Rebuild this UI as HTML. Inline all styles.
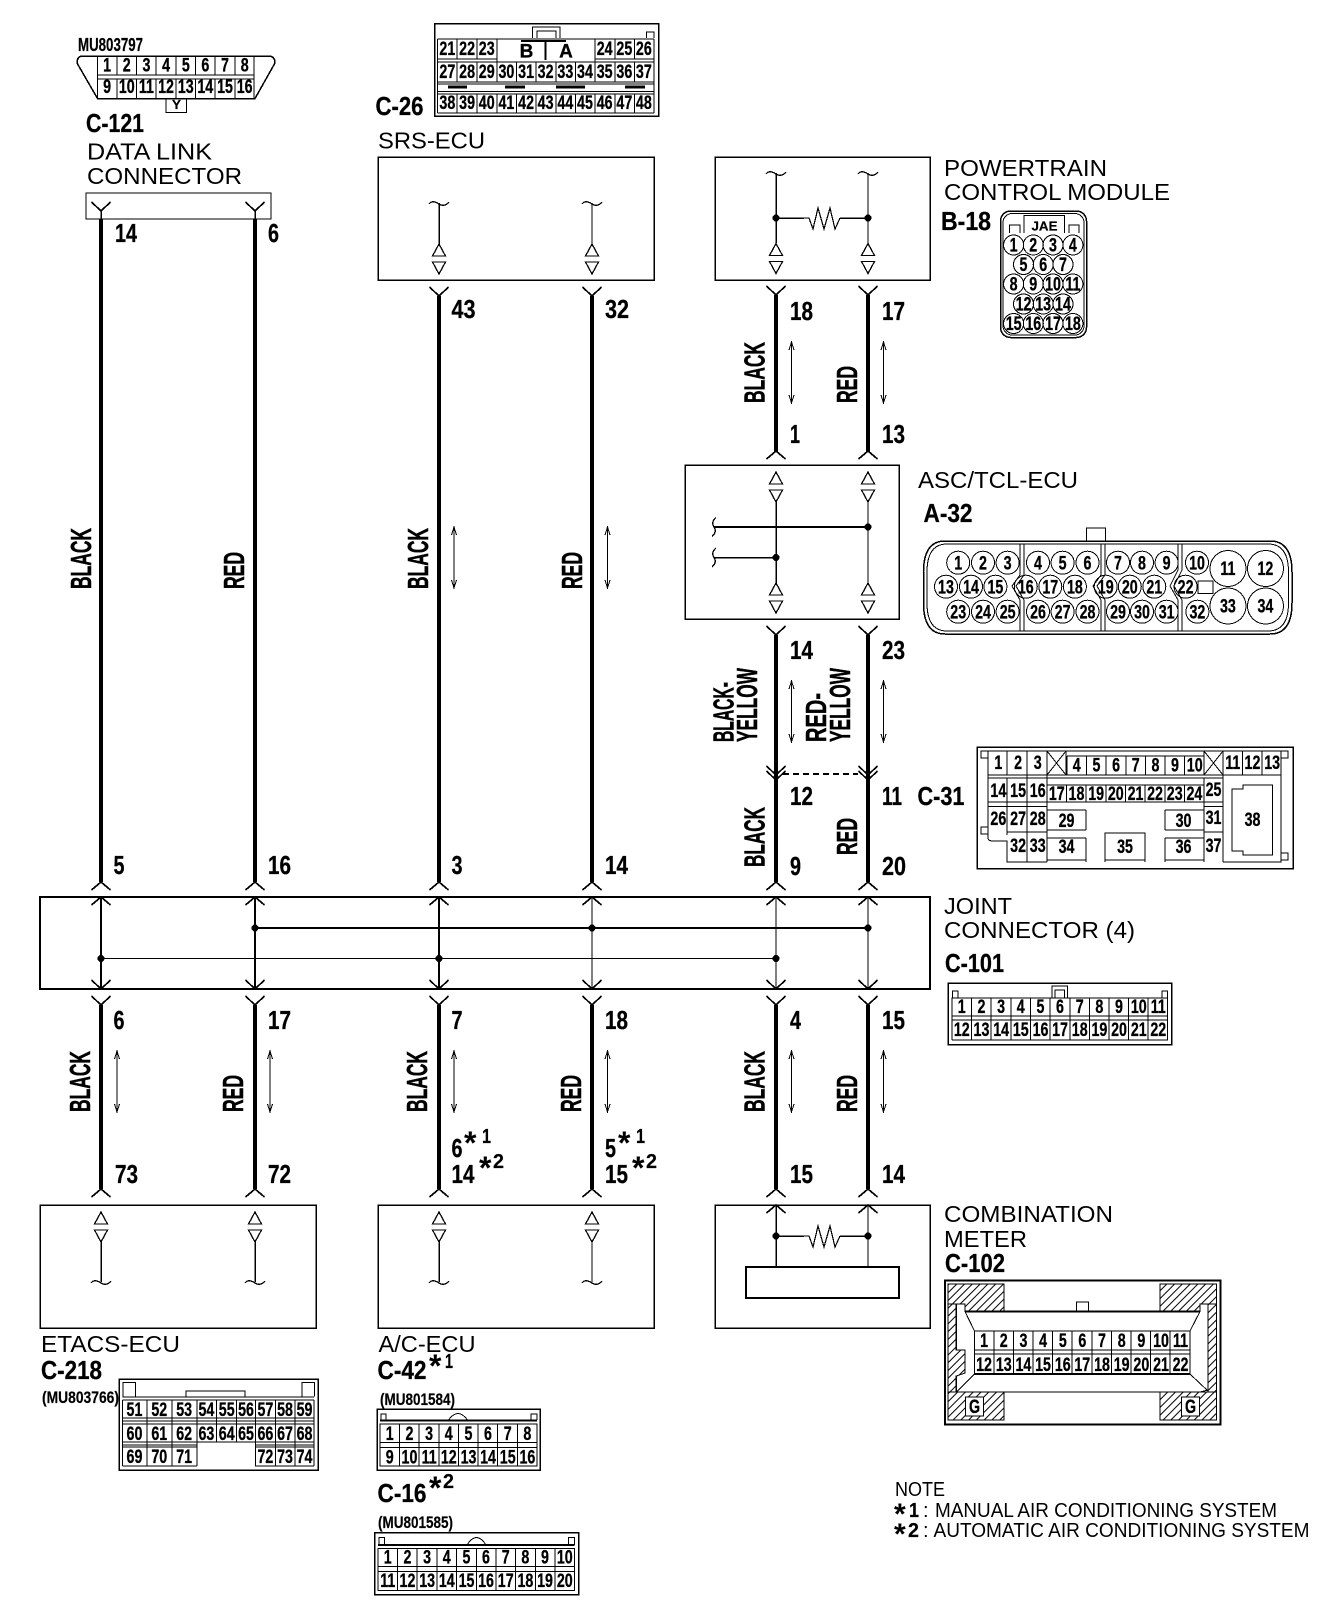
<!DOCTYPE html>
<html><head><meta charset="utf-8"><title>Diagram</title>
<style>
html,body{margin:0;padding:0;background:#fff}
svg{display:block;shape-rendering:crispEdges}
text{font-family:"Liberation Sans",sans-serif;fill:#000;stroke:none}
.r{font-size:23px}
.b{font-size:25.500px;font-weight:bold;stroke:#000;stroke-width:.3}
.w{font-size:29px;font-weight:bold;stroke:#000;stroke-width:.5}
.n{font-size:19px;font-weight:bold;text-anchor:middle;stroke:#000;stroke-width:.3}
.s{font-size:13px;font-weight:bold;stroke:#000;stroke-width:.2}
.st{font-size:32px;font-weight:bold}
.l{fill:none;stroke:#000;stroke-width:1}
.t{fill:#fff;stroke:#000;stroke-width:1.3}
.k{fill:none;stroke:#000;stroke-width:3.6}
.m{fill:none;stroke:#000;stroke-width:2}
.h{fill:none;stroke:#000;stroke-width:1.5}
</style></head><body>
<svg xmlns="http://www.w3.org/2000/svg" width="1344" height="1614" viewBox="0 0 1344 1614">
<defs>
<pattern id="ha" width="5.500" height="5.500" patternUnits="userSpaceOnUse" patternTransform="rotate(45)"><path d="M0 0V5.500" stroke="#000" stroke-width="1.600"/></pattern>
<path id="Y" d="M-9.500 -9L0 0L9.500 -9" fill="none" stroke="#000" stroke-width="1.7"/>
<path id="A" d="M-9.500 8L0 0L9.500 8" fill="none" stroke="#000" stroke-width="1.7"/>
<path id="T" d="M0 0L6.500 12H-6.500ZM-6.500 18H6.500L0 30Z" fill="#fff" stroke="#000" stroke-width="1.3"/>
<path id="Z" d="M-10 1C-7 -3 -3 -1 0 1S7 3 10 -1" fill="none" stroke="#000" stroke-width="1.3"/>
<path id="D" d="M0 0V61M-2.500 8L0 0L2.500 8M-2.500 53L0 61L2.500 53" fill="none" stroke="#000" stroke-width="1"/>
<path id="V" d="M2 -9.500C-2 -6 -2 -3 0 0S2 6 -2 9.500" fill="none" stroke="#000" stroke-width="1.3"/>
<path id="R" d="M0 0H5L9 11L14 -10L20 11L26 -10L31 11L36 0" fill="none" stroke="#000" stroke-width="1.2"/>
</defs>

<!-- Main boxes -->
<g class="l" fill="none" stroke="#000">
<rect x="86" y="193" width="185" height="26" class="l"/>
<rect x="378" y="157" width="276" height="123" class="h"/>
<rect x="715" y="157" width="215" height="123" class="h"/>
<rect x="685" y="465" width="214" height="154" class="h"/>
<rect x="40" y="897" width="890" height="92" class="m"/>
<rect x="40" y="1205" width="276" height="123" class="h"/>
<rect x="378" y="1205" width="276" height="123" class="h"/>
<rect x="715" y="1205" width="215" height="123" class="h"/>
<rect x="746" y="1267" width="153" height="31" class="m"/>
</g>

<!-- Thick wires -->
<path class="k" d="M101 219V882M255 219V882M439 296V882M592 296V882M776 295V452M868 295V452M776 635V882M868 635V882M101 1005V1189M255 1005V1189M439 1005V1189M592 1005V1189M776 1005V1189M868 1005V1189"/>
<!-- Thin lines -->
<path class="h" d="M101 211V219M255 211V219M439 203V244M776 173V243M776 502V583M776 1205V1267"/>
<path class="l" d="M592 203V244M868 173V243M868 502V583M868 1205V1267"/>
<path class="m" d="M101 897V989M255 897V989M439 897V989M255 928H868M714 527H868"/>
<path class="l" d="M592 897V989M776 897V989M868 897V989M101 958.500H776"/>
<path class="h" d="M714 557.500H776M101 1242V1282M255 1242V1282M439 1242V1282M776 218H804M840 218H868M776 1236H804M840 1236H868"/>
<path class="l" d="M592 1242V1282"/>
<path class="m" d="M783 774H858" stroke-dasharray="6 4"/>

<!-- Forks -->
<g>
<use href="#Y" x="101" y="211"/><use href="#Y" x="255" y="211"/>
<use href="#Y" x="439" y="296"/><use href="#Y" x="592" y="296"/>
<use href="#Y" x="776" y="295"/><use href="#Y" x="868" y="295"/>
<use href="#A" x="776" y="451"/><use href="#A" x="868" y="451"/>
<use href="#Y" x="776" y="635"/><use href="#Y" x="868" y="635"/>
<use href="#Y" x="776" y="775"/><use href="#Y" x="868" y="775"/>
<use href="#Y" x="776" y="780"/><use href="#Y" x="868" y="780"/>
<use href="#A" x="101" y="882"/><use href="#A" x="255" y="882"/><use href="#A" x="439" y="882"/><use href="#A" x="592" y="882"/><use href="#A" x="776" y="882"/><use href="#A" x="868" y="882"/>
<use href="#A" x="101" y="897"/><use href="#A" x="255" y="897"/><use href="#A" x="439" y="897"/><use href="#A" x="592" y="897"/><use href="#A" x="776" y="897"/><use href="#A" x="868" y="897"/>
<use href="#Y" x="101" y="989"/><use href="#Y" x="255" y="989"/><use href="#Y" x="439" y="989"/><use href="#Y" x="592" y="989"/><use href="#Y" x="776" y="989"/><use href="#Y" x="868" y="989"/>
<use href="#Y" x="101" y="1005"/><use href="#Y" x="255" y="1005"/><use href="#Y" x="439" y="1005"/><use href="#Y" x="592" y="1005"/><use href="#Y" x="776" y="1005"/><use href="#Y" x="868" y="1005"/>
<use href="#A" x="101" y="1189"/><use href="#A" x="255" y="1189"/><use href="#A" x="439" y="1189"/><use href="#A" x="592" y="1189"/><use href="#A" x="776" y="1189"/><use href="#A" x="868" y="1189"/>
<use href="#A" x="776" y="1205"/><use href="#A" x="868" y="1205"/>
<!-- triangles -->
<use href="#T" x="439" y="244"/><use href="#T" x="592" y="244"/>
<use href="#T" x="776" y="243.500"/><use href="#T" x="868" y="243.500"/>
<use href="#T" x="776" y="472"/><use href="#T" x="868" y="472"/>
<use href="#T" x="776" y="583"/><use href="#T" x="868" y="583"/>
<use href="#T" x="101" y="1212"/><use href="#T" x="255" y="1212"/><use href="#T" x="439" y="1212"/><use href="#T" x="592" y="1212"/>
<!-- tildes -->
<use href="#Z" x="439" y="203"/><use href="#Z" x="592" y="203"/><use href="#Z" x="776" y="173"/><use href="#Z" x="868" y="173"/>
<use href="#Z" x="101" y="1282"/><use href="#Z" x="255" y="1282"/><use href="#Z" x="439" y="1282"/><use href="#Z" x="592" y="1282"/>
<use href="#V" x="714" y="527"/><use href="#V" x="714" y="557.500"/>
<!-- resistors -->
<use href="#R" x="804" y="218"/><use href="#R" x="804" y="1236"/>
<!-- double arrows -->
<use href="#D" x="791.500" y="342"/><use href="#D" x="883.500" y="342"/>
<use href="#D" x="454" y="527"/><use href="#D" x="607.500" y="527"/>
<use href="#D" x="791.500" y="681"/><use href="#D" x="883.500" y="681"/>
<use href="#D" x="117" y="1051"/><use href="#D" x="270" y="1051"/><use href="#D" x="454" y="1051"/><use href="#D" x="607.500" y="1051"/><use href="#D" x="791.500" y="1051"/><use href="#D" x="883.500" y="1051"/>
</g>
<!-- dots -->
<g fill="#000" stroke="none">
<circle cx="776" cy="218" r="3.500"/><circle cx="868" cy="218" r="3.500"/>
<circle cx="868" cy="527" r="3.500"/><circle cx="776" cy="557.500" r="3.500"/>
<circle cx="255" cy="928" r="3.500"/><circle cx="592" cy="928" r="3.500"/><circle cx="868" cy="928" r="3.500"/>
<circle cx="101" cy="958.500" r="3.500"/><circle cx="439" cy="958.500" r="3.500"/><circle cx="776" cy="958.500" r="3.500"/>
<circle cx="776" cy="1236" r="3.500"/><circle cx="868" cy="1236" r="3.500"/>
</g>

<!-- Pin labels -->
<g>
<text class="b" x="115" y="242" textLength="22" lengthAdjust="spacingAndGlyphs">14</text>
<text class="b" x="268" y="242" textLength="11" lengthAdjust="spacingAndGlyphs">6</text>
<text class="b" x="451.500" y="318" textLength="24" lengthAdjust="spacingAndGlyphs">43</text>
<text class="b" x="605" y="318" textLength="24" lengthAdjust="spacingAndGlyphs">32</text>
<text class="b" x="790" y="320" textLength="23" lengthAdjust="spacingAndGlyphs">18</text>
<text class="b" x="882" y="320" textLength="23" lengthAdjust="spacingAndGlyphs">17</text>
<text class="b" x="790" y="443" textLength="10" lengthAdjust="spacingAndGlyphs">1</text>
<text class="b" x="882" y="443" textLength="23" lengthAdjust="spacingAndGlyphs">13</text>
<text class="b" x="790" y="659" textLength="23" lengthAdjust="spacingAndGlyphs">14</text>
<text class="b" x="882" y="659" textLength="23" lengthAdjust="spacingAndGlyphs">23</text>
<text class="b" x="790" y="805" textLength="23" lengthAdjust="spacingAndGlyphs">12</text>
<text class="b" x="882" y="805" textLength="20" lengthAdjust="spacingAndGlyphs">11</text>
<text class="b" x="917.500" y="805" textLength="47" lengthAdjust="spacingAndGlyphs">C-31</text>
<text class="b" x="790" y="875" textLength="11" lengthAdjust="spacingAndGlyphs">9</text>
<text class="b" x="882" y="875" textLength="24" lengthAdjust="spacingAndGlyphs">20</text>
<text class="b" x="113.500" y="874" textLength="11" lengthAdjust="spacingAndGlyphs">5</text>
<text class="b" x="268" y="874" textLength="23" lengthAdjust="spacingAndGlyphs">16</text>
<text class="b" x="451.500" y="874" textLength="11" lengthAdjust="spacingAndGlyphs">3</text>
<text class="b" x="605" y="874" textLength="23" lengthAdjust="spacingAndGlyphs">14</text>
<text class="b" x="113.500" y="1029" textLength="11" lengthAdjust="spacingAndGlyphs">6</text>
<text class="b" x="268" y="1029" textLength="23" lengthAdjust="spacingAndGlyphs">17</text>
<text class="b" x="451.500" y="1029" textLength="11" lengthAdjust="spacingAndGlyphs">7</text>
<text class="b" x="605" y="1029" textLength="23" lengthAdjust="spacingAndGlyphs">18</text>
<text class="b" x="790" y="1029" textLength="11" lengthAdjust="spacingAndGlyphs">4</text>
<text class="b" x="882" y="1029" textLength="23" lengthAdjust="spacingAndGlyphs">15</text>
<text class="b" x="115" y="1183" textLength="23" lengthAdjust="spacingAndGlyphs">73</text>
<text class="b" x="268" y="1183" textLength="23" lengthAdjust="spacingAndGlyphs">72</text>
<text class="b" x="790" y="1183" textLength="23" lengthAdjust="spacingAndGlyphs">15</text>
<text class="b" x="882" y="1183" textLength="23" lengthAdjust="spacingAndGlyphs">14</text>
<text class="b" x="451.500" y="1157" textLength="11" lengthAdjust="spacingAndGlyphs">6</text>
<text class="st" x="464" y="1154">*</text>
<text class="s" style="font-size:20px" x="482" y="1143" textLength="9" lengthAdjust="spacingAndGlyphs">1</text>
<text class="b" x="451.500" y="1183" textLength="23" lengthAdjust="spacingAndGlyphs">14</text>
<text class="st" x="479" y="1179">*</text>
<text class="s" style="font-size:20px" x="493" y="1168" textLength="11" lengthAdjust="spacingAndGlyphs">2</text>
<text class="b" x="605" y="1157" textLength="11" lengthAdjust="spacingAndGlyphs">5</text>
<text class="st" x="618" y="1154">*</text>
<text class="s" style="font-size:20px" x="636" y="1143" textLength="9" lengthAdjust="spacingAndGlyphs">1</text>
<text class="b" x="605" y="1183" textLength="23" lengthAdjust="spacingAndGlyphs">15</text>
<text class="st" x="632" y="1179">*</text>
<text class="s" style="font-size:20px" x="646" y="1168" textLength="11" lengthAdjust="spacingAndGlyphs">2</text>
</g>

<!-- Wire colors -->
<text class="w" transform="translate(91,589) rotate(-90)" textLength="61" lengthAdjust="spacingAndGlyphs">BLACK</text>
<text class="w" transform="translate(244,589) rotate(-90)" textLength="37" lengthAdjust="spacingAndGlyphs">RED</text>
<text class="w" transform="translate(428,589) rotate(-90)" textLength="61" lengthAdjust="spacingAndGlyphs">BLACK</text>
<text class="w" transform="translate(582,589) rotate(-90)" textLength="37" lengthAdjust="spacingAndGlyphs">RED</text>
<text class="w" transform="translate(764.500,403) rotate(-90)" textLength="61" lengthAdjust="spacingAndGlyphs">BLACK</text>
<text class="w" transform="translate(857,403) rotate(-90)" textLength="37" lengthAdjust="spacingAndGlyphs">RED</text>
<text class="w" transform="translate(733.500,742) rotate(-90)" textLength="60" lengthAdjust="spacingAndGlyphs">BLACK-</text>
<text class="w" transform="translate(757,742) rotate(-90)" textLength="74" lengthAdjust="spacingAndGlyphs">YELLOW</text>
<text class="w" transform="translate(826,742) rotate(-90)" textLength="49" lengthAdjust="spacingAndGlyphs">RED-</text>
<text class="w" transform="translate(850,742) rotate(-90)" textLength="74" lengthAdjust="spacingAndGlyphs">YELLOW</text>
<text class="w" transform="translate(764.500,867) rotate(-90)" textLength="60" lengthAdjust="spacingAndGlyphs">BLACK</text>
<text class="w" transform="translate(857,855) rotate(-90)" textLength="37" lengthAdjust="spacingAndGlyphs">RED</text>
<text class="w" transform="translate(90,1112) rotate(-90)" textLength="61" lengthAdjust="spacingAndGlyphs">BLACK</text>
<text class="w" transform="translate(243,1112) rotate(-90)" textLength="37" lengthAdjust="spacingAndGlyphs">RED</text>
<text class="w" transform="translate(427,1112) rotate(-90)" textLength="61" lengthAdjust="spacingAndGlyphs">BLACK</text>
<text class="w" transform="translate(581,1112) rotate(-90)" textLength="37" lengthAdjust="spacingAndGlyphs">RED</text>
<text class="w" transform="translate(764.500,1112) rotate(-90)" textLength="61" lengthAdjust="spacingAndGlyphs">BLACK</text>
<text class="w" transform="translate(857,1112) rotate(-90)" textLength="37" lengthAdjust="spacingAndGlyphs">RED</text>

<!-- Names -->
<text class="s" x="78" y="51" textLength="65" lengthAdjust="spacingAndGlyphs" style="font-size:18px">MU803797</text>
<text class="b" x="86" y="132" textLength="58" lengthAdjust="spacingAndGlyphs">C-121</text>
<text class="r" x="87" y="159.500" textLength="125" lengthAdjust="spacingAndGlyphs">DATA LINK</text>
<text class="r" x="87" y="184" textLength="155" lengthAdjust="spacingAndGlyphs">CONNECTOR</text>
<text class="b" x="375.500" y="115" textLength="48" lengthAdjust="spacingAndGlyphs">C-26</text>
<text class="r" x="378" y="148.500" textLength="107" lengthAdjust="spacingAndGlyphs">SRS-ECU</text>
<text class="r" x="944" y="176" textLength="163" lengthAdjust="spacingAndGlyphs">POWERTRAIN</text>
<text class="r" x="944" y="200" textLength="226" lengthAdjust="spacingAndGlyphs">CONTROL MODULE</text>
<text class="b" x="941" y="230" textLength="50" lengthAdjust="spacingAndGlyphs">B-18</text>
<text class="r" x="918" y="488" textLength="160" lengthAdjust="spacingAndGlyphs">ASC/TCL-ECU</text>
<text class="b" x="923.500" y="522" textLength="49" lengthAdjust="spacingAndGlyphs">A-32</text>
<text class="r" x="944" y="914" textLength="68" lengthAdjust="spacingAndGlyphs">JOINT</text>
<text class="r" x="944" y="938" textLength="191" lengthAdjust="spacingAndGlyphs">CONNECTOR (4)</text>
<text class="b" x="945" y="972" textLength="59" lengthAdjust="spacingAndGlyphs">C-101</text>
<text class="r" x="944" y="1222" textLength="169" lengthAdjust="spacingAndGlyphs">COMBINATION</text>
<text class="r" x="944" y="1247" textLength="83" lengthAdjust="spacingAndGlyphs">METER</text>
<text class="b" x="945" y="1272" textLength="60" lengthAdjust="spacingAndGlyphs">C-102</text>
<text class="r" x="41" y="1352" textLength="139" lengthAdjust="spacingAndGlyphs">ETACS-ECU</text>
<text class="b" x="41" y="1379" textLength="61" lengthAdjust="spacingAndGlyphs">C-218</text>
<text class="s" x="42" y="1403" textLength="77" lengthAdjust="spacingAndGlyphs" style="font-size:17px">(MU803766)</text>
<text class="r" x="378.500" y="1352" textLength="97" lengthAdjust="spacingAndGlyphs">A/C-ECU</text>
<text class="b" x="377.500" y="1379" textLength="49" lengthAdjust="spacingAndGlyphs">C-42</text>
<text class="st" x="429" y="1377">*</text>
<text class="s" style="font-size:20px" x="445" y="1368" textLength="8" lengthAdjust="spacingAndGlyphs">1</text>
<text class="s" x="380" y="1405" textLength="75" lengthAdjust="spacingAndGlyphs" style="font-size:17px">(MU801584)</text>
<text class="b" x="377.500" y="1502" textLength="49" lengthAdjust="spacingAndGlyphs">C-16</text>
<text class="st" x="429" y="1499">*</text>
<text class="s" style="font-size:20px" x="443" y="1488" textLength="11" lengthAdjust="spacingAndGlyphs">2</text>
<text class="s" x="378" y="1528" textLength="75" lengthAdjust="spacingAndGlyphs" style="font-size:17px">(MU801585)</text>
<text style="font-size:20px" x="895" y="1496" textLength="50" lengthAdjust="spacingAndGlyphs">NOTE</text>
<text class="st" style="font-size:30px" x="894" y="1524">*</text>
<text class="s" style="font-size:20px" x="909" y="1517" textLength="10" lengthAdjust="spacingAndGlyphs">1</text>
<text style="font-size:20px" x="923" y="1517">:</text>
<text style="font-size:20px" x="935" y="1517" textLength="342" lengthAdjust="spacingAndGlyphs">MANUAL AIR CONDITIONING SYSTEM</text>
<text class="st" style="font-size:30px" x="894" y="1544">*</text>
<text class="s" style="font-size:20px" x="908" y="1537" textLength="11" lengthAdjust="spacingAndGlyphs">2</text>
<text style="font-size:20px" x="923" y="1537">:</text>
<text style="font-size:20px" x="933.500" y="1537" textLength="376" lengthAdjust="spacingAndGlyphs">AUTOMATIC AIR CONDITIONING SYSTEM</text>

<!-- C-121 connector -->
<path class="h" d="M97.500 98.500L77 63Q77 56 83 56H268Q275 56 275 63L255 98.500Z"/>
<path class="l" d="M97.500 56V98M117 56V75M117 79V98M136.500 56V75M136.500 79V98M156 56V75M156 79V98M176 56V75M176 79V98M195.500 56V75M195.500 79V98M215 56V75M215 79V98M235 56V75M235 79V98M254 56V98M97 75H254M97 79H254M166 98V112.500H186.500V98"/>
<g transform="translate(97.300,0) scale(.75,1)">
<text class="n" x="13" y="71.500">1</text><text class="n" x="39.300" y="71.500">2</text><text class="n" x="65.500" y="71.500">3</text><text class="n" x="91.700" y="71.500">4</text><text class="n" x="118" y="71.500">5</text><text class="n" x="144" y="71.500">6</text><text class="n" x="170.300" y="71.500">7</text><text class="n" x="196.500" y="71.500">8</text>
<text class="n" x="13" y="93">9</text><text class="n" x="39.300" y="93">10</text><text class="n" x="65.500" y="93">11</text><text class="n" x="91.700" y="93">12</text><text class="n" x="118" y="93">13</text><text class="n" x="144" y="93">14</text><text class="n" x="170.300" y="93">15</text><text class="n" x="196.500" y="93">16</text>
</g>
<text class="s" x="176.500" y="109" text-anchor="middle" textLength="9" lengthAdjust="spacingAndGlyphs">Y</text>

<!-- C-26 connector -->
<rect class="h" x="434.500" y="23.500" width="224" height="92.500"/>
<path class="l" d="M532.500 38V27H560V38M537 38V31H556V38M646.500 38V32H654V38M437.500 39H654M437.500 59H497M595 59H654M437.500 62H654M437.500 82H654M437.500 84H654M437.500 91.500H654M437.500 94H654M437.500 113H654M437.500 39V113M457 39V59M477 39V59M497 39V62M595 39V62M615 39V59M634.500 39V59M654 39V113"/>
<path class="l" d="M457 62V82M477 62V82M497 62V82M516.500 62V82M536 62V82M556 62V82M575.500 62V82M595 62V82M615 62V82M634.500 62V82M457 94V113M477 94V113M497 94V113M516.500 94V113M536 94V113M556 94V113M575.500 94V113M595 94V113M615 94V113M634.500 94V113"/>
<path class="m" d="M521 41H566M545.500 41V60"/>
<path d="M448 87H467M505 87H525M556 87H585M625 87H645" stroke="#000" stroke-width="3" fill="none"/>
<text class="n" x="526.500" y="57.500">B</text><text class="n" x="566" y="57.500">A</text>
<g transform="translate(437.600,0) scale(.75,1)">
<g><text class="n" x="13" y="55">21</text><text class="n" x="39.300" y="55">22</text><text class="n" x="65.500" y="55">23</text><text class="n" x="222.700" y="55">24</text><text class="n" x="249" y="55">25</text><text class="n" x="275" y="55">26</text></g>
<g><text class="n" x="13" y="78">27</text><text class="n" x="39.300" y="78">28</text><text class="n" x="65.500" y="78">29</text><text class="n" x="91.700" y="78">30</text><text class="n" x="118" y="78">31</text><text class="n" x="144" y="78">32</text><text class="n" x="170.300" y="78">33</text><text class="n" x="196.500" y="78">34</text><text class="n" x="222.700" y="78">35</text><text class="n" x="249" y="78">36</text><text class="n" x="275" y="78">37</text></g>
<g><text class="n" x="13" y="109">38</text><text class="n" x="39.300" y="109">39</text><text class="n" x="65.500" y="109">40</text><text class="n" x="91.700" y="109">41</text><text class="n" x="118" y="109">42</text><text class="n" x="144" y="109">43</text><text class="n" x="170.300" y="109">44</text><text class="n" x="196.500" y="109">45</text><text class="n" x="222.700" y="109">46</text><text class="n" x="249" y="109">47</text><text class="n" x="275" y="109">48</text></g>
</g>

<!-- B-18 connector -->
<rect class="h" x="1000.500" y="211" width="86" height="126.500" rx="10"/>
<rect class="l" x="1003" y="213.500" width="81" height="121.500" rx="9"/>
<path class="l" d="M1024 233V215.500H1064.500V233M1009.500 233V225H1020V233M1069 233V225H1079V233"/>
<text class="s" x="1044.500" y="230.500" text-anchor="middle" textLength="26" lengthAdjust="spacingAndGlyphs">JAE</text>
<g>
<circle class="l" cx="1013.600" cy="245" r="10"/><circle class="l" cx="1033.300" cy="245" r="10"/><circle class="l" cx="1053" cy="245" r="10"/><circle class="l" cx="1072.900" cy="245" r="10"/>
<circle class="l" cx="1023.500" cy="264.500" r="10"/><circle class="l" cx="1043.200" cy="264.500" r="10"/><circle class="l" cx="1063" cy="264.500" r="10"/>
<circle class="l" cx="1013.600" cy="284" r="10"/><circle class="l" cx="1033.300" cy="284" r="10"/><circle class="l" cx="1053" cy="284" r="10"/><circle class="l" cx="1072.900" cy="284" r="10"/>
<circle class="l" cx="1023.500" cy="304" r="10"/><circle class="l" cx="1043.200" cy="304" r="10"/><circle class="l" cx="1063" cy="304" r="10"/>
<circle class="l" cx="1013.600" cy="323.500" r="10"/><circle class="l" cx="1033.300" cy="323.500" r="10"/><circle class="l" cx="1053" cy="323.500" r="10"/><circle class="l" cx="1072.900" cy="323.500" r="10"/>
</g>
<g transform="scale(.75,1)">
<text class="n" x="1351.500" y="251.500">1</text><text class="n" x="1377.700" y="251.500">2</text><text class="n" x="1404" y="251.500">3</text><text class="n" x="1430.500" y="251.500">4</text>
<text class="n" x="1364.700" y="271">5</text><text class="n" x="1390.900" y="271">6</text><text class="n" x="1417.300" y="271">7</text>
<text class="n" x="1351.500" y="290.500">8</text><text class="n" x="1377.700" y="290.500">9</text><text class="n" x="1404" y="290.500">10</text><text class="n" x="1430.500" y="290.500">11</text>
<text class="n" x="1364.700" y="310.500">12</text><text class="n" x="1390.900" y="310.500">13</text><text class="n" x="1417.300" y="310.500">14</text>
<text class="n" x="1351.500" y="330">15</text><text class="n" x="1377.700" y="330">16</text><text class="n" x="1404" y="330">17</text><text class="n" x="1430.500" y="330">18</text>
</g>

<!-- A-32 connector -->
<path class="h" d="M945 541H1270Q1292 541 1292 572V603Q1292 634 1270 634H945Q923.500 634 923.500 603V572Q923.500 541 945 541Z"/>
<path class="l" d="M947 544H1268Q1288.500 544 1288.500 572V603Q1288.500 631 1268 631H947Q927 631 927 603V572Q927 544 947 544Z"/>
<path class="l" d="M1086.500 541V528H1105.500V541M1020 544V575L1012 586L1020 600V631M1024 544V575L1016 586L1024 600V631M1101 544V575L1093 586L1101 600V631M1105 544V575L1097 586L1105 600V631M1178 544V570L1170 586L1178 600V631M1182 544V570L1174 586L1182 600V631"/>
<rect class="l" x="1198" y="581" width="15" height="12.500"/>
<g>
<circle class="l" cx="958.200" cy="562.700" r="11.500"/><circle class="l" cx="983" cy="562.700" r="11.500"/><circle class="l" cx="1007.600" cy="562.700" r="11.500"/><circle class="l" cx="1038" cy="562.700" r="11.500"/><circle class="l" cx="1062.600" cy="562.700" r="11.500"/><circle class="l" cx="1087.500" cy="562.700" r="11.500"/><circle class="l" cx="1118" cy="562.700" r="11.500"/><circle class="l" cx="1142" cy="562.700" r="11.500"/><circle class="l" cx="1166.600" cy="562.700" r="11.500"/><circle class="l" cx="1197" cy="562.700" r="11.500"/>
<circle class="l" cx="946" cy="586.700" r="11.500"/><circle class="l" cx="971" cy="586.700" r="11.500"/><circle class="l" cx="995.400" cy="586.700" r="11.500"/><circle class="l" cx="1025.800" cy="586.700" r="11.500"/><circle class="l" cx="1050.300" cy="586.700" r="11.500"/><circle class="l" cx="1074.900" cy="586.700" r="11.500"/><circle class="l" cx="1105.700" cy="586.700" r="11.500"/><circle class="l" cx="1129.800" cy="586.700" r="11.500"/><circle class="l" cx="1154.300" cy="586.700" r="11.500"/><circle class="l" cx="1185.600" cy="586.700" r="11.500"/>
<circle class="l" cx="958.200" cy="611.700" r="11.500"/><circle class="l" cx="983" cy="611.700" r="11.500"/><circle class="l" cx="1007.600" cy="611.700" r="11.500"/><circle class="l" cx="1038" cy="611.700" r="11.500"/><circle class="l" cx="1062.600" cy="611.700" r="11.500"/><circle class="l" cx="1087.500" cy="611.700" r="11.500"/><circle class="l" cx="1118" cy="611.700" r="11.500"/><circle class="l" cx="1142" cy="611.700" r="11.500"/><circle class="l" cx="1166.600" cy="611.700" r="11.500"/><circle class="l" cx="1197.400" cy="611.700" r="11.500"/>
<circle class="l" cx="1228" cy="568.500" r="18"/><circle class="l" cx="1265.500" cy="568.500" r="18"/><circle class="l" cx="1228" cy="606" r="18"/><circle class="l" cx="1265.500" cy="606" r="18"/>
</g>
<g transform="scale(.75,1)">
<text class="n" x="1277.600" y="569.500">1</text><text class="n" x="1310.700" y="569.500">2</text><text class="n" x="1343.500" y="569.500">3</text><text class="n" x="1384" y="569.500">4</text><text class="n" x="1416.800" y="569.500">5</text><text class="n" x="1450" y="569.500">6</text><text class="n" x="1490.700" y="569.500">7</text><text class="n" x="1522.700" y="569.500">8</text><text class="n" x="1555.500" y="569.500">9</text><text class="n" x="1596" y="569.500">10</text>
<text class="n" x="1261.300" y="593.500">13</text><text class="n" x="1294.700" y="593.500">14</text><text class="n" x="1327.200" y="593.500">15</text><text class="n" x="1367.700" y="593.500">16</text><text class="n" x="1400.400" y="593.500">17</text><text class="n" x="1433.200" y="593.500">18</text><text class="n" x="1474.300" y="593.500">19</text><text class="n" x="1506.400" y="593.500">20</text><text class="n" x="1539" y="593.500">21</text><text class="n" x="1580.800" y="593.500">22</text>
<text class="n" x="1277.600" y="618.500">23</text><text class="n" x="1310.700" y="618.500">24</text><text class="n" x="1343.500" y="618.500">25</text><text class="n" x="1384" y="618.500">26</text><text class="n" x="1416.800" y="618.500">27</text><text class="n" x="1450" y="618.500">28</text><text class="n" x="1490.700" y="618.500">29</text><text class="n" x="1522.700" y="618.500">30</text><text class="n" x="1555.500" y="618.500">31</text><text class="n" x="1596.500" y="618.500">32</text>
<text class="n" x="1637.200" y="575">11</text><text class="n" x="1687.200" y="575">12</text><text class="n" x="1637.200" y="612.500">33</text><text class="n" x="1687.200" y="612.500">34</text>
</g>

<!-- C-31 connector -->
<rect class="h" x="977" y="747" width="316" height="121.500"/>
<path class="l" d="M988 751H1281M988 751V838Q988 841 993 841H1007V862H1047M1007 778V835M1027 751V862M1047 751V862M1066 751V775M1047 775L1066 751M1047 751L1066 775M1067 756V775H1204V756H1067M1086.500 756V775M1106 756V775M1126 756V775M1145.500 756V775M1165 756V775M1184.500 756V775M1204 751V775M1223 751V862M1204 751L1223 775M1223 751L1204 775M1242.500 751V775M1262 751V775M1281 751V862H1223M988 775H1281M988 778H1223M1007 751V775"/>
<path class="l" d="M988 802H1223M988 806.500H1047M1204 806.500H1223M1047 785H1204M1066.500 785V802M1086 785V802M1106 785V802M1125.500 785V802M1145 785V802M1165 785V802M1184.500 785V802M1204 778V862M1047 810H1086M1165 810H1204M1047 830H1086M1165 830H1204M1047 838H1086M1165 838H1204M1086 810V830M1165 810V830M1086 838V862M1165 838V862M1105 862V833H1145V862M1007 832H1047M1204 832H1223M1047 860H1086M1105 860H1145M1165 860H1204"/>
<path class="m" d="M1272.500 785H1243V789H1232V851H1243V855H1272.500Z" style="stroke-width:1.300"/>
<path class="l" d="M981 751H988V758H981ZM981 827H988V834H981ZM1281 751H1288V758H1281ZM1281 853H1288V860H1281Z"/>
<g transform="translate(988.600,0) scale(.75,1)">
<text class="n" x="13" y="769">1</text><text class="n" x="39.300" y="769">2</text><text class="n" x="65.500" y="769">3</text>
<text class="n" x="13" y="797">14</text><text class="n" x="39.300" y="797">15</text><text class="n" x="65.500" y="797">16</text>
<text class="n" x="13" y="825">26</text><text class="n" x="39.300" y="825">27</text><text class="n" x="65.500" y="825">28</text>
<text class="n" x="39.300" y="852">32</text><text class="n" x="65.500" y="852">33</text>
</g>
<g transform="translate(1067,0) scale(.75,1)">
<text class="n" x="13" y="771.500">4</text><text class="n" x="39.300" y="771.500">5</text><text class="n" x="65.500" y="771.500">6</text><text class="n" x="91.700" y="771.500">7</text><text class="n" x="118" y="771.500">8</text><text class="n" x="144" y="771.500">9</text><text class="n" x="170.300" y="771.500">10</text>
</g>
<g transform="translate(1223,0) scale(.75,1)">
<text class="n" x="13" y="769">11</text><text class="n" x="39.300" y="769">12</text><text class="n" x="65.500" y="769">13</text>
</g>
<g transform="translate(1047,0) scale(.75,1)">
<text class="n" x="13" y="800">17</text><text class="n" x="39.300" y="800">18</text><text class="n" x="65.500" y="800">19</text><text class="n" x="91.700" y="800">20</text><text class="n" x="118" y="800">21</text><text class="n" x="144" y="800">22</text><text class="n" x="170.300" y="800">23</text><text class="n" x="196.500" y="800">24</text>
</g>
<g transform="scale(.75,1)">
<text class="n" x="1618" y="796">25</text><text class="n" x="1618" y="824">31</text><text class="n" x="1618" y="852">37</text>
<text class="n" x="1422" y="827">29</text><text class="n" x="1578" y="827">30</text><text class="n" x="1422" y="853">34</text><text class="n" x="1500" y="853">35</text><text class="n" x="1578" y="853">36</text><text class="n" x="1670" y="826">38</text>
</g>

<!-- C-101 connector -->
<rect class="h" x="948" y="983" width="223.500" height="61.500"/>
<path class="l" d="M952 1040V998H1167.500V1040H952M952 1016H1167.500M952 1020H1167.500M1052 998V986H1067.500V998M1055 998V990H1064.500V998M952.500 998V991H958V998M1162 998V991H1167.500V998"/>
<path class="l" d="M971.500 998V1040M991 998V1040M1011 998V1040M1030.500 998V1040M1050 998V1040M1070 998V1040M1089.500 998V1040M1109 998V1040M1128.500 998V1040M1148 998V1040"/>
<g transform="translate(952,0) scale(.75,1)">
<text class="n" x="13" y="1013">1</text><text class="n" x="39.300" y="1013">2</text><text class="n" x="65.500" y="1013">3</text><text class="n" x="91.700" y="1013">4</text><text class="n" x="118" y="1013">5</text><text class="n" x="144" y="1013">6</text><text class="n" x="170.300" y="1013">7</text><text class="n" x="196.500" y="1013">8</text><text class="n" x="222.700" y="1013">9</text><text class="n" x="249" y="1013">10</text><text class="n" x="275" y="1013">11</text>
<text class="n" x="13" y="1036">12</text><text class="n" x="39.300" y="1036">13</text><text class="n" x="65.500" y="1036">14</text><text class="n" x="91.700" y="1036">15</text><text class="n" x="118" y="1036">16</text><text class="n" x="144" y="1036">17</text><text class="n" x="170.300" y="1036">18</text><text class="n" x="196.500" y="1036">19</text><text class="n" x="222.700" y="1036">20</text><text class="n" x="249" y="1036">21</text><text class="n" x="275" y="1036">22</text>
</g>

<!-- C-102 connector -->
<rect class="m" x="945" y="1280.500" width="275.500" height="144"/>
<g fill="url(#ha)" stroke="#000" stroke-width="1">
<path d="M948 1284H1004V1312H965V1332H956V1304H948ZM1216.500 1284H1160V1312H1200V1332H1208V1304H1216.500Z"/>
<path d="M948 1304H956V1350H965V1376H956V1392H948ZM1216.500 1304H1208V1350H1199V1362H1208V1392H1216.500Z"/>
<path d="M948 1392H1004V1420H948ZM1160 1392H1216.500V1420H1160Z"/>
</g>
<path fill="#fff" stroke="#000" stroke-width="1" d="M956.500 1304H965V1311.500H1200V1304H1208V1390L1200 1392H956.500V1376L965 1373V1350H956.500Z"/>
<path class="m" d="M965 1311.500H1200"/>
<path class="l" d="M965 1311.500L974.500 1331M1200 1311.500L1190 1331M974.500 1374L956.500 1392M1190 1374L1208 1391M1076.500 1311V1302H1088.500V1311"/>
<path class="l" d="M974.500 1331H1190V1374H974.500ZM974.500 1350H1190M974.500 1354H1190M994 1331V1374M1013.500 1331V1374M1033 1331V1374M1052.500 1331V1374M1072 1331V1374M1092 1331V1374M1111.500 1331V1374M1131 1331V1374M1150.500 1331V1374M1170 1331V1374"/>
<path class="m" d="M974.500 1374H1190"/>
<rect x="965.500" y="1397" width="18" height="19" fill="#fff" stroke="#000"/><rect x="1181.500" y="1397" width="18" height="19" fill="#fff" stroke="#000"/>
<g transform="translate(974.300,0) scale(.75,1)">
<text class="n" x="13" y="1347">1</text><text class="n" x="39.300" y="1347">2</text><text class="n" x="65.500" y="1347">3</text><text class="n" x="91.700" y="1347">4</text><text class="n" x="118" y="1347">5</text><text class="n" x="144" y="1347">6</text><text class="n" x="170.300" y="1347">7</text><text class="n" x="196.500" y="1347">8</text><text class="n" x="222.700" y="1347">9</text><text class="n" x="249" y="1347">10</text><text class="n" x="275" y="1347">11</text>
<text class="n" x="13" y="1371">12</text><text class="n" x="39.300" y="1371">13</text><text class="n" x="65.500" y="1371">14</text><text class="n" x="91.700" y="1371">15</text><text class="n" x="118" y="1371">16</text><text class="n" x="144" y="1371">17</text><text class="n" x="170.300" y="1371">18</text><text class="n" x="196.500" y="1371">19</text><text class="n" x="222.700" y="1371">20</text><text class="n" x="249" y="1371">21</text><text class="n" x="275" y="1371">22</text>
</g>
<g transform="translate(974.500,0) scale(.75,1)"><text class="n" x="0" y="1413">G</text></g><g transform="translate(1190.500,0) scale(.75,1)"><text class="n" x="0" y="1413">G</text></g>

<!-- C-218 connector -->
<rect class="h" x="119" y="1379" width="199" height="91"/>
<path class="l" d="M123 1396.500V1382.500H135.500V1396.500M302 1396.500V1382.500H314.500V1396.500M186 1396.500V1391H245V1396.500M122.500 1397H314M122.500 1400H314M122.500 1418H314M122.500 1421H314M122.500 1424H314M122.500 1442H314M122.500 1445H197M255 1445H314M122.500 1447H197M255 1447H314M122.500 1466H197M255 1466H314"/>
<path class="l" d="M122.500 1400V1466M147 1400V1466M172 1400V1466M197 1400V1466M216.500 1400V1442M236.500 1400V1442M255.500 1400V1466M275.500 1400V1466M295 1400V1466M314 1400V1466"/>
<g transform="scale(.75,1)">
<text class="n" x="179.300" y="1416">51</text><text class="n" x="212.400" y="1416">52</text><text class="n" x="245.500" y="1416">53</text><text class="n" x="275.200" y="1416">54</text><text class="n" x="302.300" y="1416">55</text><text class="n" x="328" y="1416">56</text><text class="n" x="353.900" y="1416">57</text><text class="n" x="380" y="1416">58</text><text class="n" x="406" y="1416">59</text>
<text class="n" x="179.300" y="1440">60</text><text class="n" x="212.400" y="1440">61</text><text class="n" x="245.500" y="1440">62</text><text class="n" x="275.200" y="1440">63</text><text class="n" x="302.300" y="1440">64</text><text class="n" x="328" y="1440">65</text><text class="n" x="353.900" y="1440">66</text><text class="n" x="380" y="1440">67</text><text class="n" x="406" y="1440">68</text>
<text class="n" x="179.300" y="1463">69</text><text class="n" x="212.400" y="1463">70</text><text class="n" x="245.500" y="1463">71</text><text class="n" x="353.900" y="1463">72</text><text class="n" x="380" y="1463">73</text><text class="n" x="406" y="1463">74</text>
</g>

<!-- C-42 connector -->
<rect class="h" x="377" y="1409" width="163" height="61"/>
<path class="l" d="M381 1420V1414H386V1420M531 1420V1414H537V1420M448.500 1420Q458 1407 467.500 1420M380 1424H537V1466H380ZM380 1442.500H537M380 1447.500H537M399.500 1424V1466M419 1424V1466M439 1424V1466M458.500 1424V1466M478 1424V1466M497.500 1424V1466M517.500 1424V1466"/>
<path class="m" d="M380 1420.500H537"/>
<g transform="translate(380,0) scale(.75,1)">
<text class="n" x="13" y="1440">1</text><text class="n" x="39.300" y="1440">2</text><text class="n" x="65.500" y="1440">3</text><text class="n" x="91.700" y="1440">4</text><text class="n" x="118" y="1440">5</text><text class="n" x="144" y="1440">6</text><text class="n" x="170.300" y="1440">7</text><text class="n" x="196.500" y="1440">8</text>
<text class="n" x="13" y="1463.500">9</text><text class="n" x="39.300" y="1463.500">10</text><text class="n" x="65.500" y="1463.500">11</text><text class="n" x="91.700" y="1463.500">12</text><text class="n" x="118" y="1463.500">13</text><text class="n" x="144" y="1463.500">14</text><text class="n" x="170.300" y="1463.500">15</text><text class="n" x="196.500" y="1463.500">16</text>
</g>

<!-- C-16 connector -->
<rect class="h" x="374.500" y="1532.500" width="204" height="62"/>
<path class="l" d="M379 1545V1537.500H384.500V1545M568.500 1545V1537.500H574.500V1545M467 1545Q476.500 1530 486 1545M378 1548.500H574.500V1590.500H378ZM378 1566.500H574.500M378 1571.500H574.500M397.500 1548.500V1590.500M417 1548.500V1590.500M437 1548.500V1590.500M456.500 1548.500V1590.500M476.500 1548.500V1590.500M496 1548.500V1590.500M515.500 1548.500V1590.500M535.500 1548.500V1590.500M555 1548.500V1590.500"/>
<path class="m" d="M378 1545H574.500"/>
<g transform="translate(378,0) scale(.75,1)">
<text class="n" x="13" y="1563.500">1</text><text class="n" x="39.300" y="1563.500">2</text><text class="n" x="65.500" y="1563.500">3</text><text class="n" x="91.700" y="1563.500">4</text><text class="n" x="118" y="1563.500">5</text><text class="n" x="144" y="1563.500">6</text><text class="n" x="170.300" y="1563.500">7</text><text class="n" x="196.500" y="1563.500">8</text><text class="n" x="222.700" y="1563.500">9</text><text class="n" x="249" y="1563.500">10</text>
<text class="n" x="13" y="1587">11</text><text class="n" x="39.300" y="1587">12</text><text class="n" x="65.500" y="1587">13</text><text class="n" x="91.700" y="1587">14</text><text class="n" x="118" y="1587">15</text><text class="n" x="144" y="1587">16</text><text class="n" x="170.300" y="1587">17</text><text class="n" x="196.500" y="1587">18</text><text class="n" x="222.700" y="1587">19</text><text class="n" x="249" y="1587">20</text>
</g>
</svg>
</body></html>
